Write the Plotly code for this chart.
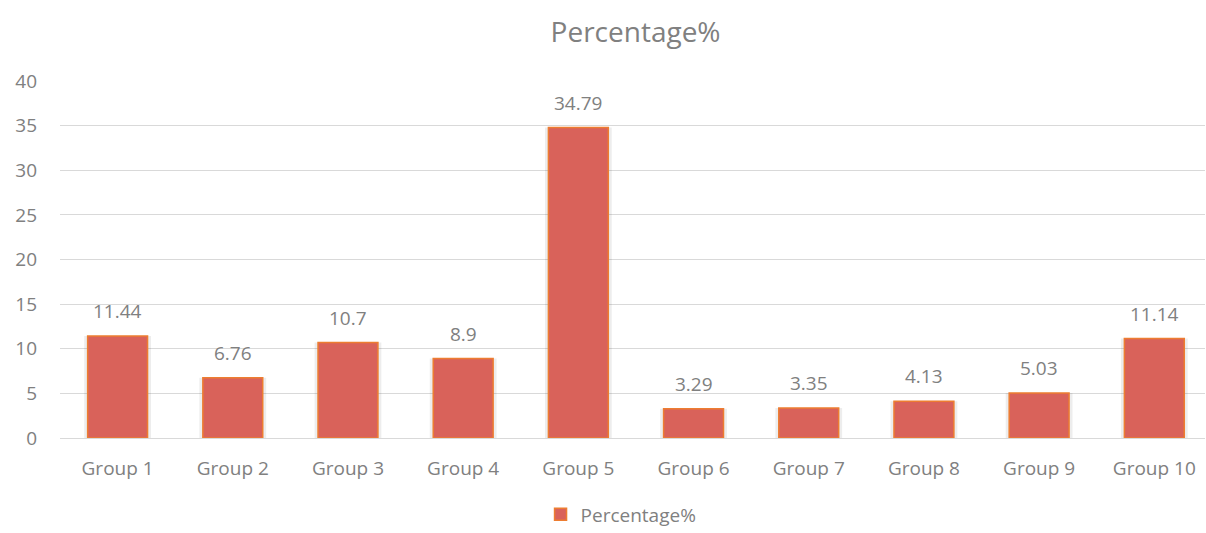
import plotly.graph_objects as go

categories = ["Group 1", "Group 2", "Group 3", "Group 4", "Group 5",
              "Group 6", "Group 7", "Group 8", "Group 9", "Group 10"]
values = [11.44, 6.76, 10.7, 8.9, 34.79, 3.29, 3.35, 4.13, 5.03, 11.14]
value_labels = ["11.44", "6.76", "10.7", "8.9", "34.79", "3.29", "3.35", "4.13", "5.03", "11.14"]
series_name = "Percentage%"

FONT = "Open Sans"
GRAY = "#808080"

fig = go.Figure()
# soft shadow behind bars
fig.add_trace(go.Bar(
    x=categories, y=values, width=0.58, offset=-0.29,
    marker=dict(color="rgba(0,0,0,0.07)", line=dict(width=0)),
    showlegend=False, hoverinfo="skip",
))
fig.add_trace(go.Bar(
    x=categories, y=values, name=series_name, width=0.52, offset=-0.26,
    marker=dict(color="#D9625A", line=dict(color="#ED7D31", width=1.5)),
))

for c, v, t in zip(categories, values, value_labels):
    fig.add_annotation(x=c, y=v, text=t, showarrow=False, yshift=25,
                       font=dict(family=FONT, size=19, color=GRAY))

fig.update_layout(
    width=1206, height=533,
    margin=dict(l=60, r=1, t=81, b=95),
    paper_bgcolor="white", plot_bgcolor="white",
    barmode="overlay",
    title=dict(text="Percentage%", x=0.527, xanchor="center", y=0.94, yanchor="middle",
               font=dict(family=FONT, size=28, color=GRAY)),
    font=dict(family=FONT, color=GRAY),
    showlegend=True,
    legend=dict(orientation="h", x=0.49, xanchor="center",
                yref="container", y=0.035, yanchor="middle",
                itemwidth=30,
                font=dict(family=FONT, size=19, color=GRAY)),
    xaxis=dict(range=[-0.5, 9.44], showgrid=False, showline=True,
               linecolor="#D9D9D9", linewidth=1, ticks="",
               ticklabelstandoff=13,
               tickfont=dict(family=FONT, size=19, color=GRAY)),
    yaxis=dict(range=[0, 40], dtick=5, showgrid=True, gridcolor="#D9D9D9",
               gridwidth=1, zeroline=False, showline=False, ticks="",
               ticklabelstandoff=22,
               tickfont=dict(family=FONT, size=19, color=GRAY)),
)

fig.write_html("out.html")
